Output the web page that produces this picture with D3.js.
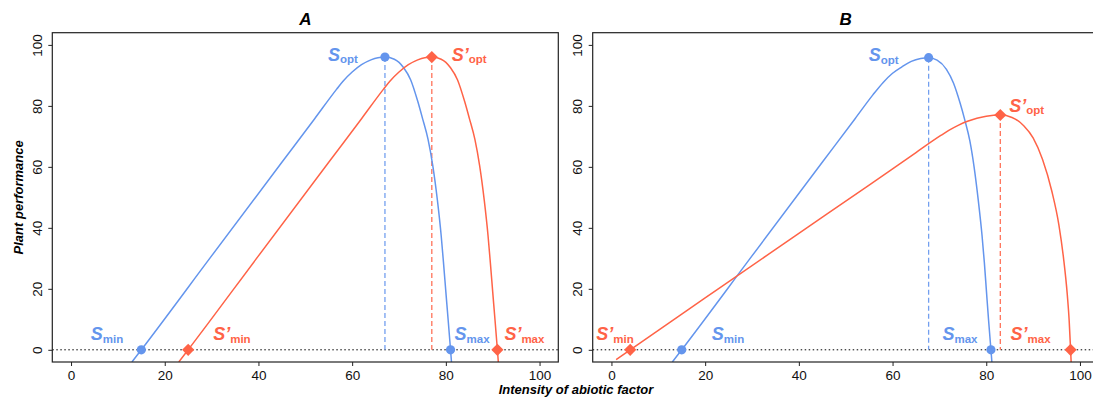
<!DOCTYPE html>
<html>
<head>
<meta charset="utf-8">
<script src="https://cdn.jsdelivr.net/npm/d3@7"></script>
<style>
  body { margin: 0; background: #fff; }
  svg { font-family: "Liberation Sans", Arial, Helvetica, sans-serif; }
  .tick-label { font-size: 13.5px; fill: #111; font-family: "Liberation Sans", Arial, sans-serif; }
  .axis-title { font-size: 13px; font-weight: bold; font-style: italic; fill: #000; }
  .panel-title { font-size: 17px; font-weight: bold; font-style: italic; fill: #000; }
</style>
</head>
<body>
<svg class="chart"></svg>
<script>
const svgWidth = 1093;
const svgHeight = 403;

// ---- data ----
const panelNames = ["A", "B"];
const xTicks = [0, 20, 40, 60, 80, 100];
const yTicks = [0, 20, 40, 60, 80, 100];

// blue curve, panel A
const blueCurveA = [
  [13, -4], [15, 0], [30, 30.8], [45, 61.5], [52, 75.8], [56.7, 85.5], [58, 88],
  [60, 91.1], [62, 93.5], [64, 95.1], [65.5, 95.8], [67, 96], [69, 95.3],
  [71, 92.5], [72.5, 88.5], [74, 81.5], [75, 76], [76.2, 69], [77.2, 60.5],
  [78.2, 49], [79, 37.5], [79.5, 28.5], [80, 19], [80.5, 9.6], [81, 0], [81.2, -4]
];
// blue curve, panel B
const blueCurveB = [
  [13, -4], [15, 0], [30, 30.8], [45, 61.5], [52, 75.8], [55.8, 83.6], [58, 87.7],
  [60, 90.7], [62, 92.8], [64, 94.6], [66, 95.55], [67.7, 95.8], [69.5, 95],
  [71.5, 92], [73, 87.5], [74.4, 81], [75.4, 75.5], [76.5, 68.5], [77.4, 60],
  [78.3, 49], [79.1, 37.5], [79.6, 28.5], [80.05, 19], [80.5, 9.6], [81, 0], [81.2, -4]
];
// red curve, panel A
const redCurveA = [
  [23, -4], [25, 0], [40, 30.8], [55, 61.5], [62, 75.8], [66.7, 85.5], [68, 88],
  [70, 91.1], [72, 93.5], [74, 95.1], [75.5, 95.8], [77, 96], [79, 95.3],
  [81, 92.5], [82.5, 88.5], [84, 81.5], [85, 76], [86.2, 69], [87.2, 60.5],
  [88.2, 49], [89, 37.5], [89.5, 28.5], [90, 19], [90.5, 9.6], [91, 0], [91.2, -4]
];
// red curve, panel B
const redCurveB = [
  [1, -3.2], [4, 0], [20, 17], [40, 38.2], [55, 54], [65, 64.7], [70.3, 70.3],
  [72, 71.95], [74, 73.6], [76, 74.95], [78, 75.95], [80, 76.6], [83, 77],
  [85.5, 76.2], [88, 73.5], [90, 69.5], [92, 62.5], [94, 52], [95.5, 41],
  [96.5, 30], [97.3, 18], [97.7, 9.5], [98, 0], [98.12, -4]
];

// key points: [min, opt, max] as [x, y]
const blueKeysA = [[15, 0], [67, 96], [81, 0]];
const blueKeysB = [[15, 0], [67.7, 95.8], [81, 0]];
const redKeysA = [[25, 0], [77, 96], [91, 0]];
const redKeysB = [[4, 0], [83, 77], [98, 0]];

const blueColour = "#6495ED";
const redColour = "#FF6347";

const svg = d3.select('.chart')
  .attr("width", svgWidth)
  .attr("height", svgHeight);

var panelWidth = 506;
var margin = { top: 32.7, bottom: 41 };
var innerHeight = svgHeight - margin.top - margin.bottom;
var panelLefts = [52.3, 592.7];

// label placement relative to key point (pixels)
var labelsA = [
  { col: blueColour, prime: false, sub: "min", key: 0, dx: -18, dy: -9.5, anchor: "end", red: false },
  { col: blueColour, prime: false, sub: "opt", key: 1, dx: -27, dy: 3.6, anchor: "end", red: false },
  { col: blueColour, prime: false, sub: "max", key: 2, dx: 4, dy: -9.5, anchor: "start", red: false },
  { col: redColour, prime: true, sub: "min", key: 0, dx: 25, dy: -9.5, anchor: "start", red: true },
  { col: redColour, prime: true, sub: "opt", key: 1, dx: 20, dy: 3.6, anchor: "start", red: true },
  { col: redColour, prime: true, sub: "max", key: 2, dx: 7, dy: -9.5, anchor: "start", red: true }
];
var labelsB = [
  { col: blueColour, prime: false, sub: "min", key: 0, dx: 30, dy: -9.5, anchor: "start", red: false },
  { col: blueColour, prime: false, sub: "opt", key: 1, dx: -30, dy: 3.6, anchor: "end", red: false },
  { col: blueColour, prime: false, sub: "max", key: 2, dx: -13.5, dy: -9.5, anchor: "end", red: false },
  { col: redColour, prime: true, sub: "min", key: 0, dx: 3.5, dy: -9.5, anchor: "end", red: true },
  { col: redColour, prime: true, sub: "opt", key: 1, dx: 9, dy: -3.3, anchor: "start", red: true },
  { col: redColour, prime: true, sub: "max", key: 2, dx: -20, dy: -9.5, anchor: "end", red: true }
];

var panels = [
  { name: panelNames[0], blue: blueCurveA, blueKeys: blueKeysA, red: redCurveA, redKeys: redKeysA, labels: labelsA },
  { name: panelNames[1], blue: blueCurveB, blueKeys: blueKeysB, red: redCurveB, redKeys: redKeysB, labels: labelsB }
];

panels.forEach(function(p, i) {
  var left = panelLefts[i];
  var g = svg.append("g")
    .attr("transform", `translate(${left}, ${margin.top})`);

  var x = d3.scaleLinear().domain([-4, 104]).range([0, panelWidth]);
  var y = d3.scaleLinear().domain([-4, 104]).range([innerHeight, 0]);

  g.append("clipPath").attr("id", "clip" + i)
    .append("rect").attr("width", panelWidth).attr("height", innerHeight);

  // title
  g.append("text")
    .attr("class", "panel-title")
    .attr("x", panelWidth / 2)
    .attr("y", -8)
    .attr("text-anchor", "middle")
    .text(p.name);

  // Add X axis
  var xAxis = g.append("g")
    .attr("transform", "translate(0," + innerHeight + ")")
    .call(d3.axisBottom(x).tickValues(xTicks).tickSize(4).tickSizeOuter(0).tickPadding(4));
  xAxis.attr("font-family", null).attr("font-size", null);
  xAxis.select(".domain").remove();
  xAxis.selectAll("line").attr("stroke", "#222");
  xAxis.selectAll("text").attr("class", "tick-label");

  // Add Y axis
  var yAxis = g.append("g")
    .call(d3.axisLeft(y).tickValues(yTicks).tickSize(4).tickSizeOuter(0));
  yAxis.attr("font-family", null).attr("font-size", null);
  yAxis.select(".domain").remove();
  yAxis.selectAll("line").attr("stroke", "#222");
  yAxis.selectAll("text")
    .attr("class", "tick-label")
    .attr("x", null).attr("dy", null)
    .attr("text-anchor", "middle")
    .attr("transform", "translate(-10.5,0) rotate(-90)");

  var plot = g.append("g").attr("clip-path", "url(#clip" + i + ")");

  // dotted zero line
  plot.append("line")
    .attr("x1", 0).attr("x2", panelWidth)
    .attr("y1", y(0)).attr("y2", y(0))
    .attr("stroke", "#000").attr("stroke-width", 1)
    .attr("stroke-dasharray", "1.5,2.5");

  // dashed drop lines from the optimum
  [[p.blueKeys[1], blueColour], [p.redKeys[1], redColour]].forEach(function(d) {
    plot.append("line")
      .attr("x1", x(d[0][0])).attr("x2", x(d[0][0]))
      .attr("y1", y(d[0][1])).attr("y2", y(0))
      .attr("stroke", d[1]).attr("stroke-width", 1.3)
      .attr("stroke-opacity", 0.9)
      .attr("stroke-dasharray", "5,3");
  });

  var line = d3.line()
    .x(function(d) { return x(d[0]); })
    .y(function(d) { return y(d[1]); })
    .curve(d3.curveMonotoneX);

  plot.append("path").datum(p.blue)
    .attr("fill", "none").attr("stroke", blueColour).attr("stroke-width", 1.5)
    .attr("d", line);
  plot.append("path").datum(p.red)
    .attr("fill", "none").attr("stroke", redColour).attr("stroke-width", 1.5)
    .attr("d", line);

  // markers
  g.selectAll(".bdot").data(p.blueKeys).enter().append("circle")
    .attr("cx", function(d) { return x(d[0]); })
    .attr("cy", function(d) { return y(d[1]); })
    .attr("r", 4.6)
    .attr("fill", blueColour);
  g.selectAll(".rdia").data(p.redKeys).enter().append("path")
    .attr("d", d3.symbol().type(d3.symbolSquare).size(74))
    .attr("transform", function(d) { return `translate(${x(d[0])},${y(d[1])}) rotate(45)`; })
    .attr("fill", redColour);

  // S labels
  p.labels.forEach(function(l) {
    var k = l.red ? p.redKeys[l.key] : p.blueKeys[l.key];
    var t = g.append("text")
      .attr("x", x(k[0]) + l.dx)
      .attr("y", y(k[1]) + l.dy)
      .attr("text-anchor", l.anchor)
      .attr("fill", l.col)
      .attr("font-weight", "bold");
    t.append("tspan")
      .attr("font-size", "18px").attr("font-style", "italic")
      .text(l.prime ? "S\u2019" : "S");
    t.append("tspan")
      .attr("font-size", "11.5px").attr("dy", 2.5)
      .text(l.sub);
  });

  // box
  g.append("rect")
    .attr("width", panelWidth).attr("height", innerHeight)
    .attr("fill", "none").attr("stroke", "#222").attr("stroke-width", 1.2);
});

// axis titles
svg.append("text")
  .attr("class", "axis-title")
  .attr("transform", "translate(22.5," + (margin.top + innerHeight / 2) + ") rotate(-90)")
  .attr("text-anchor", "middle")
  .text("Plant performance");

svg.append("text")
  .attr("class", "axis-title")
  .attr("x", 576)
  .attr("y", 394)
  .attr("text-anchor", "middle")
  .text("Intensity of abiotic factor");
</script>
</body>
</html>
